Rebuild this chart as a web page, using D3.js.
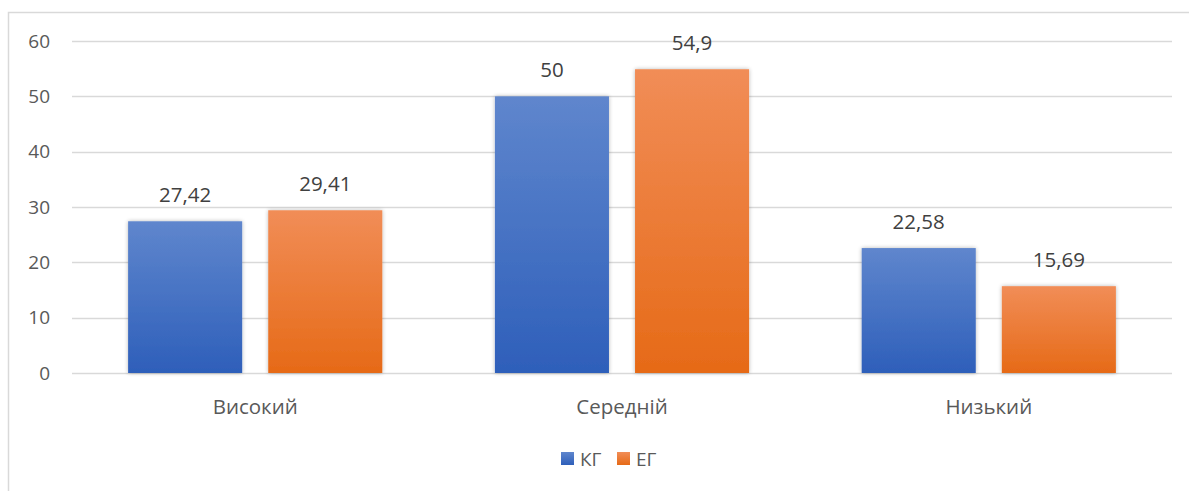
<!DOCTYPE html>
<html>
<head>
<meta charset="utf-8">
<script src="https://cdn.jsdelivr.net/npm/d3@7"></script>
<style>
  html, body { margin: 0; padding: 0; background: #fff; }
  svg { display: block; font-family: "Open Sans", "Noto Sans", sans-serif; }
</style>
</head>
<body>
<svg id="chart" width="1189" height="491"></svg>
<script>
// Levels and groups
const categories = ["Високий", "Середній", "Низький"];
const seriesNames = ["КГ", "ЕГ"];
const kgValues = [27.42, 50, 22.58];
const egValues = [29.41, 54.9, 15.69];
const yTicks = [0, 10, 20, 30, 40, 50, 60];

const seriesValues = [kgValues, egValues];
const gradients = [
  { id: "gradKG", top: "#5f86cd", bottom: "#2e5fba" },
  { id: "gradEG", top: "#f18d57", bottom: "#e66a17" }
];

const svg = d3.select("#chart");
const W = 1189, H = 491;
const plot = { left: 72, right: 1172, top: 41, bottom: 373 };

// outer frame
svg.append("rect")
  .attr("x", 8.5).attr("y", 12.5)
  .attr("width", W + 20).attr("height", H + 20)
  .attr("fill", "#fff").attr("stroke", "#d9d9d9").attr("stroke-width", 1.5);

const defs = svg.append("defs");
gradients.forEach(g => {
  const lg = defs.append("linearGradient").attr("id", g.id)
    .attr("x1", 0).attr("y1", 0).attr("x2", 0).attr("y2", 1);
  lg.append("stop").attr("offset", "0%").attr("stop-color", g.top);
  lg.append("stop").attr("offset", "100%").attr("stop-color", g.bottom);
});
const shadow = defs.append("filter").attr("id", "barShadow")
  .attr("x", "-20%").attr("y", "-20%").attr("width", "140%").attr("height", "140%");
shadow.append("feGaussianBlur").attr("in", "SourceAlpha").attr("stdDeviation", 2.2).attr("result", "blur");
shadow.append("feComponentTransfer").attr("in", "blur").attr("result", "soft")
  .append("feFuncA").attr("type", "linear").attr("slope", 0.28);
const merge = shadow.append("feMerge");
merge.append("feMergeNode").attr("in", "soft");
merge.append("feMergeNode").attr("in", "SourceGraphic");

const y = d3.scaleLinear().domain([0, 60]).range([plot.bottom, plot.top]);
const x0 = d3.scaleBand().domain(categories).range([plot.left, plot.right])
  .paddingInner(0.307).paddingOuter(0.153);
const x1 = d3.scaleBand().domain(seriesNames).range([0, x0.bandwidth()]).paddingInner(0.186);

// gridlines
svg.append("g").selectAll("line").data(yTicks).join("line")
  .attr("x1", plot.left).attr("x2", plot.right)
  .attr("y1", d => Math.round(y(d)) + 0.5).attr("y2", d => Math.round(y(d)) + 0.5)
  .attr("stroke", "#d9d9d9").attr("stroke-width", 1.5);

// y axis labels
const yAxis = d3.axisLeft(y).tickValues(yTicks).tickSize(0).tickPadding(0);
const yg = svg.append("g").attr("transform", `translate(50,0)`).call(yAxis);
yg.select(".domain").remove();
yg.selectAll("text").attr("fill", "#595959").style("font-size", "19px")
  .style("font-family", "'Open Sans', sans-serif");

// bars
const groups = svg.append("g").selectAll("g").data(categories).join("g")
  .attr("transform", d => `translate(${x0(d)},0)`);

groups.each(function(cat, ci) {
  const g = d3.select(this);
  seriesNames.forEach((s, si) => {
    const v = seriesValues[si][ci];
    g.append("rect")
      .attr("x", x1(s)).attr("width", x1.bandwidth())
      .attr("y", y(v)).attr("height", y(0) - y(v))
      .attr("fill", `url(#${gradients[si].id})`)
      .attr("filter", "url(#barShadow)");
    g.append("text")
      .attr("x", x1(s) + x1.bandwidth() / 2)
      .attr("y", y(v) - 19)
      .attr("text-anchor", "middle")
      .attr("fill", "#404040")
      .style("font-size", "20.5px")
      .text(String(v).replace(".", ","));
  });
});

// x axis labels
const xAxis = d3.axisBottom(x0).tickSize(0).tickPadding(0);
const xg = svg.append("g").attr("transform", `translate(0,${plot.bottom + 41})`).call(xAxis);
xg.select(".domain").remove();
xg.selectAll("text").attr("fill", "#595959").attr("dy", 0).style("font-size", "20.5px")
  .style("font-family", "'Open Sans', sans-serif");

// legend
const legendItems = [
  { name: seriesNames[0], x: 561, grad: gradients[0].id },
  { name: seriesNames[1], x: 617, grad: gradients[1].id }
];
const lg = svg.append("g");
legendItems.forEach(item => {
  lg.append("rect").attr("x", item.x).attr("y", 452).attr("width", 13).attr("height", 13)
    .attr("fill", `url(#${item.grad})`);
  lg.append("text").attr("x", item.x + 19).attr("y", 466)
    .attr("fill", "#595959").style("font-size", "19px").text(item.name);
});
</script>
</body>
</html>
